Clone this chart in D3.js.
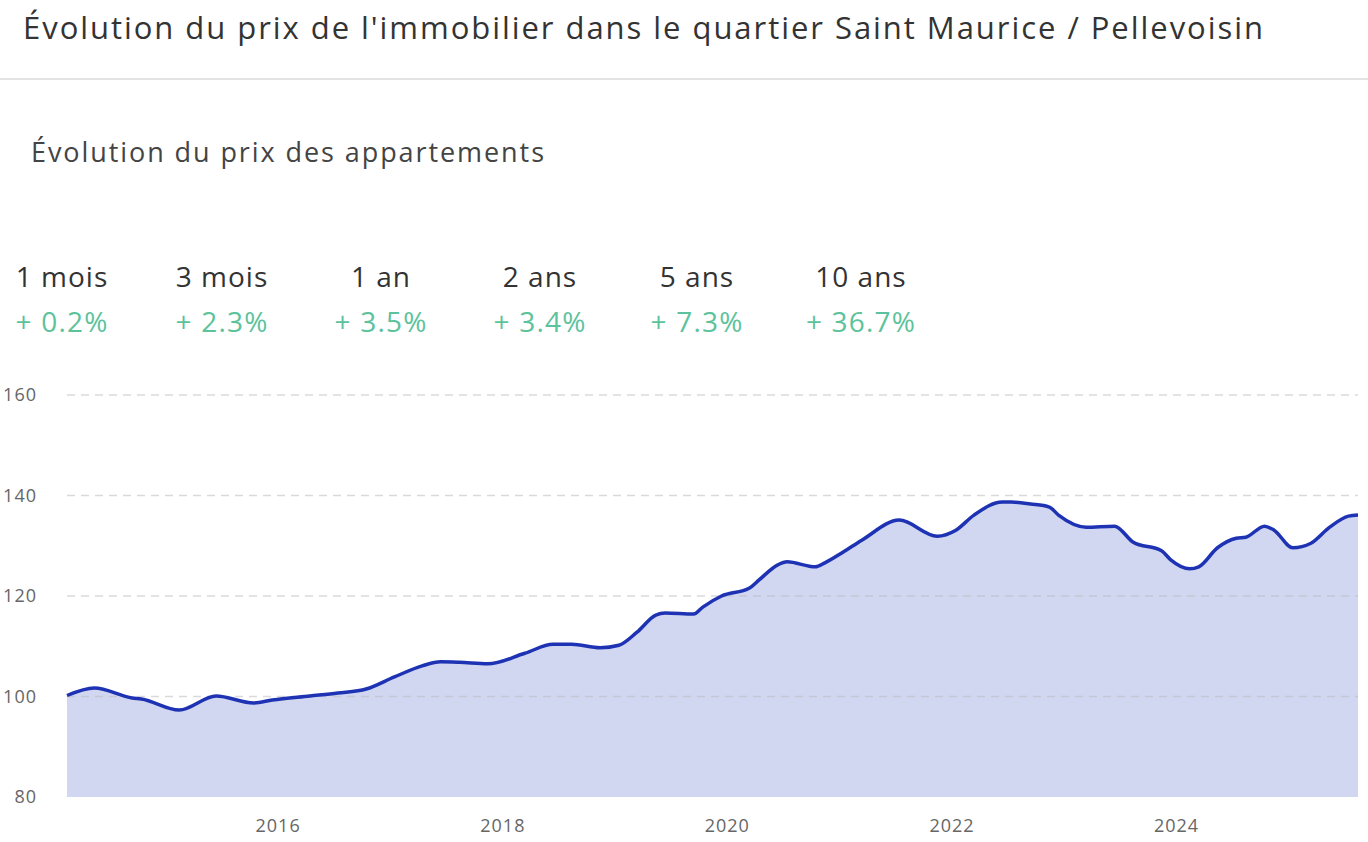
<!DOCTYPE html>
<html>
<head>
<meta charset="utf-8">
<script src="https://cdn.jsdelivr.net/npm/d3@7"></script>
<style>
  body { margin: 0; background: #fff; }
  svg { display: block; font-family: "Open Sans", sans-serif; }
</style>
</head>
<body>
<svg></svg>
<script>
// data
const months = [
  '2014-02', '2014-05', '2014-09', '2014-10', '2015-02', '2015-06', '2015-10', '2015-12',
  '2016-04', '2016-07', '2016-10', '2017-01', '2017-04', '2017-06', '2017-08', '2017-11',
  '2018-03', '2018-06', '2018-08', '2018-11', '2019-01', '2019-03', '2019-05', '2019-06',
  '2019-09', '2019-10', '2019-12', '2020-03', '2020-04', '2020-06', '2020-07', '2020-10',
  '2020-11', '2021-01', '2021-03', '2021-07', '2021-11', '2022-01', '2022-03', '2022-06',
  '2022-07', '2022-09', '2022-11', '2022-12', '2023-03', '2023-06', '2023-08', '2023-11',
  '2023-12', '2024-02', '2024-03', '2024-05', '2024-07', '2024-08', '2024-10', '2024-11',
  '2025-01', '2025-03', '2025-05', '2025-07', '2025-08'
]
const prices = [
  100.2, 101.7, 99.7, 99.5, 97.3, 100.1, 98.7, 99.3,
  100.1, 100.7, 101.5, 103.9, 106.1, 106.9, 106.8, 106.5,
  108.6, 110.4, 110.4, 109.7, 110.2, 112.8, 116.2, 116.6,
  116.4, 117.8, 120.0, 121.6, 123.2, 126.2, 126.8, 125.8,
  126.6, 128.8, 131.1, 135.1, 131.9, 133.1, 136.1, 138.7,
  138.7, 138.3, 137.7, 136.1, 133.7, 133.9, 130.7, 129.0,
  127.2, 125.4, 125.8, 129.6, 131.5, 131.7, 133.9, 133.1,
  129.6, 130.5, 133.7, 135.9, 136.1
]
const periods = ['1 mois', '3 mois', '1 an', '2 ans', '5 ans', '10 ans']
const changes = ['+ 0.2%', '+ 2.3%', '+ 3.5%', '+ 3.4%', '+ 7.3%', '+ 36.7%']
const yTicks = [80, 100, 120, 140, 160]
const xTicks = [2016, 2018, 2020, 2022, 2024]

const width = 1368
const height = 842
const margin = { top: 395, right: 10, bottom: 45, left: 67 }

const svg = d3.select('svg')
    .attr('width', width)
    .attr('height', height)

// header
svg.append('text')
    .attr('x', 23)
    .attr('y', 39)
    .attr('font-size', 31)
    .attr('fill', '#333')
    .attr('textLength', 1240)
    .attr('lengthAdjust', 'spacing')
    .text("Évolution du prix de l'immobilier dans le quartier Saint Maurice / Pellevoisin")

svg.append('line')
    .attr('x1', 0).attr('x2', width)
    .attr('y1', 79).attr('y2', 79)
    .attr('stroke', '#e3e3e3')
    .attr('stroke-width', 2)

svg.append('text')
    .attr('x', 31)
    .attr('y', 162)
    .attr('font-size', 27)
    .attr('fill', '#444')
    .attr('textLength', 513)
    .attr('lengthAdjust', 'spacing')
    .text('Évolution du prix des appartements')

// stats row
const centers = [62, 222, 381, 540, 697, 861]
const stats = svg.append('g')
    .selectAll('g')
    .data(periods)
    .enter()
    .append('g')
    .attr('transform', (d, i) => `translate(${centers[i]}, 0)`)

stats.append('text')
    .attr('y', 287)
    .attr('text-anchor', 'middle')
    .attr('font-size', 28)
    .attr('letter-spacing', 1)
    .attr('fill', '#333')
    .text(d => d)

stats.append('text')
    .attr('y', 332)
    .attr('text-anchor', 'middle')
    .attr('font-size', 28)
    .attr('letter-spacing', 1.2)
    .attr('fill', '#5cc29b')
    .text((d, i) => changes[i])

// chart
const parse = d3.timeParse('%Y-%m-%d')
const data = months.map((m, i) => ({ date: parse(m + '-15'), value: prices[i] }))

const x = d3.scaleTime()
    .domain(d3.extent(data, d => d.date))
    .range([margin.left, width - margin.right])

const y = d3.scaleLinear()
    .domain([80, 160])
    .range([height - margin.bottom, margin.top])

const area = d3.area()
    .x(d => x(d.date))
    .y0(y(80))
    .y1(d => y(d.value))
    .curve(d3.curveMonotoneX)

const line = d3.line()
    .x(d => x(d.date))
    .y(d => y(d.value))
    .curve(d3.curveMonotoneX)

svg.append('path')
    .datum(data)
    .attr('d', area)
    .attr('fill', '#d1d6f1')

// gridlines on top of the fill
svg.append('g')
    .selectAll('line')
    .data(yTicks.filter(t => t > 80))
    .enter()
    .append('line')
    .attr('x1', margin.left)
    .attr('x2', width - margin.right)
    .attr('y1', d => y(d))
    .attr('y2', d => y(d))
    .attr('stroke', '#bbb')
    .attr('stroke-opacity', 0.55)
    .attr('stroke-width', 1.5)
    .attr('stroke-dasharray', '8,6')

svg.append('path')
    .datum(data)
    .attr('d', line)
    .attr('fill', 'none')
    .attr('stroke', '#1e33b4')
    .attr('stroke-width', 3.5)
    .attr('stroke-linejoin', 'round')

// axes
const yAxis = d3.axisLeft(y)
    .tickValues(yTicks)
    .tickSize(0)
    .tickPadding(30)

svg.append('g')
    .attr('transform', `translate(${margin.left}, 0)`)
    .call(yAxis)
    .call(g => g.select('.domain').remove())
    .call(g => g.selectAll('text')
        .attr('font-size', 18)
        .attr('letter-spacing', 1)
        .attr('font-family', '"Open Sans", sans-serif')
        .attr('fill', '#666'))

const xAxis = d3.axisBottom(x)
    .tickValues(xTicks.map(t => new Date(t, 0, 1)))
    .tickFormat(d3.timeFormat('%Y'))
    .tickSize(0)
    .tickPadding(22)

svg.append('g')
    .attr('transform', `translate(0, ${y(80)})`)
    .call(xAxis)
    .call(g => g.select('.domain').remove())
    .call(g => g.selectAll('text')
        .attr('font-size', 18)
        .attr('letter-spacing', 1)
        .attr('font-family', '"Open Sans", sans-serif')
        .attr('fill', '#666'))
</script>
</body>
</html>
